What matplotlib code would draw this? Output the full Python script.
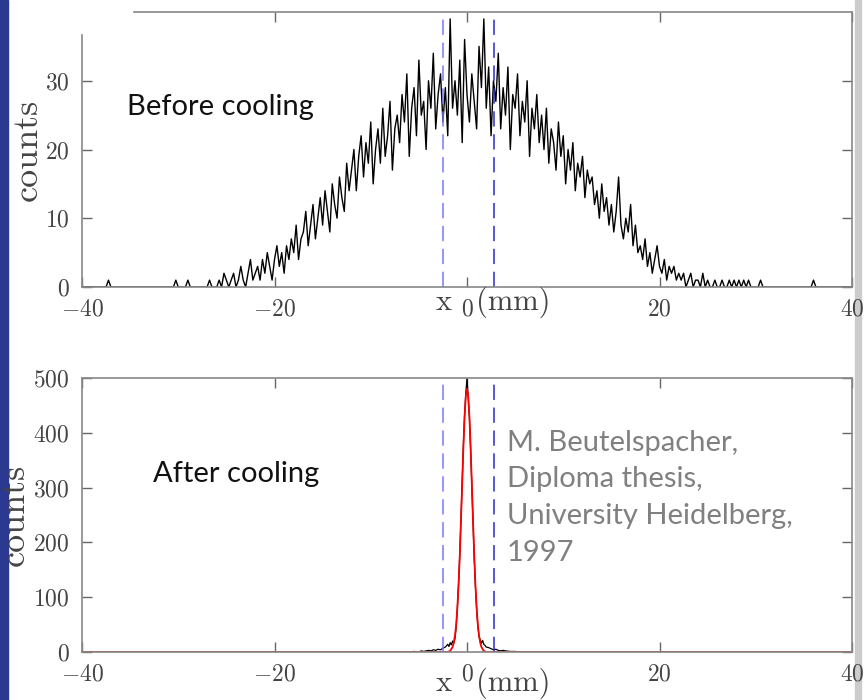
import numpy as np
import matplotlib
matplotlib.use('Agg')
import matplotlib.pyplot as plt
from matplotlib.patches import Rectangle

plt.rcParams['mathtext.fontset'] = 'cm'
plt.rcParams['font.family'] = ['cmr10', 'DejaVu Sans']

# --- data ---
bin_w = 0.25
before_start = -27.0
# counts per 0.25 mm bin from -27.0 to 26.75 (before cooling)
before_counts = [
    0, 1, 0, 0, 0, 1, 0, 2, 1, 0, 1, 2, 0, 1, 3, 1, 0, 2, 4, 1,
    2, 3, 1, 4, 2, 5, 3, 1, 4, 6, 3, 5, 2, 6, 4, 7, 5, 9, 4, 7,
    8, 11, 6, 9, 12, 7, 10, 13, 9, 14, 11, 8, 15, 12, 10, 16, 13, 11, 18, 14,
    17, 20, 14, 19, 22, 16, 21, 18, 24, 15, 20, 23, 18, 26, 19, 22, 27, 17, 23, 25,
    21, 28, 24, 31, 19, 26, 29, 22, 33, 25, 27, 20, 30, 26, 34, 23, 28, 31, 24, 29,
    22, 39, 26, 30, 25, 33, 21, 36, 28, 24, 31, 27, 23, 35, 29, 39, 26, 32, 22, 30,
    27, 34, 23, 29, 25, 32, 20, 28, 26, 31, 22, 27, 24, 30, 19, 26, 23, 28, 21, 25,
    20, 26, 18, 23, 21, 17, 24, 19, 22, 15, 20, 17, 21, 14, 18, 16, 19, 13, 17, 15,
    16, 12, 14, 10, 15, 11, 13, 9, 12, 8, 11, 16, 9, 7, 10, 8, 12, 6, 9, 5,
    6, 4, 7, 3, 5, 2, 4, 6, 3, 2, 4, 1, 3, 2, 3, 1, 2, 1, 2, 0,
    1, 2, 0, 1, 1, 0, 2, 0, 1, 0, 0, 1, 0, 0, 1, 0,
]
# isolated single counts outside the main hump
before_stray = [-37.25, -30.25, -29.0, 27.25, 27.75, 28.25, 28.75, 29.25, 30.5, 36.0]

# after cooling: measured counts
after_x = [-40, -6.0, -5.5, -5.0, -4.75, -4.5, -4.25, -4.0, -3.75, -3.5, -3.25,
           -3.0, -2.75, -2.5, -2.25, -2.0, -1.875, -1.75, -1.625, -1.5, -1.375,
           -1.25, -1.125, -1.0, -0.875, -0.75, -0.625, -0.5, -0.375, -0.25, -0.125,
           0.0, 0.125, 0.25, 0.375, 0.5, 0.625, 0.75, 0.875, 1.0, 1.125,
           1.25, 1.375, 1.5, 1.625, 1.75, 1.875, 2.0, 2.25, 2.5, 2.75,
           3.0, 3.25, 3.5, 3.75, 4.0, 4.5, 5.0, 5.5, 6.0, 40]
after_counts = [0, 0, 1, 0, 2, 1, 2, 3, 2, 4, 3,
                5, 4, 7, 9, 14, 10, 17, 13, 20, 16,
                24, 45, 80, 125, 178, 245, 310, 378, 432, 472,
                500, 465, 428, 370, 305, 238, 172, 120, 78, 48,
                28, 22, 16, 21, 14, 12, 9, 8, 6, 4,
                5, 3, 2, 3, 2, 1, 1, 0, 0, 0]

# gaussian fit (red)
fit_x = [-40, -2.0, -1.75, -1.5, -1.375, -1.25, -1.125, -1.0, -0.875, -0.75, -0.625,
         -0.5, -0.375, -0.25, -0.125, 0.0, 0.125, 0.25, 0.375, 0.5, 0.625,
         0.75, 0.875, 1.0, 1.125, 1.25, 1.375, 1.5, 1.75, 2.0, 40]
fit_counts = [0, 0, 2, 9, 17, 30, 50, 81, 123, 176, 240,
              308, 374, 430, 467, 480, 467, 430, 374, 308, 240,
              176, 123, 81, 50, 30, 17, 9, 2, 0, 0]

cut_left = -2.5
cut_right = 2.8
x_ticks = [-40, -20, 0, 20, 40]
top_yticks = [0, 10, 20, 30]
bot_yticks = [0, 100, 200, 300, 400, 500]

# full histogram grid for "before"
grid = np.arange(-40, 40 + bin_w / 2, bin_w)
before = np.zeros(len(grid))
i0 = int(round((before_start + 40) / bin_w))
before[i0:i0 + len(before_counts)] = before_counts
for s in before_stray:
    before[int(round((s + 40) / bin_w))] = 1

fig = plt.figure(figsize=(8.65, 7.0), dpi=100)
fig.patches.append(Rectangle((0, 0), 8 / 865, 1, transform=fig.transFigure,
                             color='#2b3990', zorder=-1))
fig.patches.append(Rectangle((855 / 865, 0), 6 / 865, 1, transform=fig.transFigure,
                             color='#cccccc', zorder=-1))

ax1 = fig.add_axes([82 / 865, 413 / 700, 770 / 865, 275 / 700])
ax2 = fig.add_axes([82 / 865, 48 / 700, 770 / 865, 274 / 700])


def style(ax, yticks, ylim, xpad):
    ax.set_xlim(-40, 40)
    ax.set_ylim(*ylim)
    ax.set_xticks(x_ticks)
    ax.set_xticklabels(['$%d$' % v for v in x_ticks])
    ax.set_yticks(yticks)
    ax.set_yticklabels(['$%d$' % v for v in yticks])
    ax.tick_params(direction='in', top=True, right=True, length=7, width=1,
                   color='#666666', labelcolor='#444444', labelsize=17)
    ax.tick_params(axis='x', pad=xpad)
    ax.tick_params(axis='y', pad=9)
    for sp in ax.spines.values():
        sp.set_color('#888888')
        sp.set_linewidth(1.2)


# top panel
ax1.plot(grid, before, color='black', lw=1.0)
ax1.axvline(cut_left, color='#7878ff', lw=1.1, dashes=(10, 5))
ax1.axvline(cut_right, color='#2a2acc', lw=1.1, dashes=(10, 5))
style(ax1, top_yticks, (0, 40), 8)
ax1.spines['left'].set_bounds(0, 36.7)
ax1.spines['top'].set_bounds(-34.6, 40)
ax1.xaxis.get_major_ticks()[0].tick2line.set_visible(False)
ax1.text(-35.3, 26.2, 'Before cooling', family='Lato', fontsize=21,
         color='#111111', ha='left', va='center')
ax1.text(-0.07, 0.5, 'counts', transform=ax1.transAxes, rotation=90,
         ha='center', va='center', fontsize=26, color='#444444')
tr1 = ax1.get_xaxis_transform()
ax1.text(-2.4, -0.084, 'x', transform=tr1, ha='center', va='baseline',
         fontsize=22, color='#444444')
ax1.text(0.94, -0.084, '(mm)', transform=tr1, ha='left', va='baseline',
         fontsize=22, color='#444444')

# bottom panel
ax2.plot(after_x, after_counts, color='black', lw=0.9)
ax2.plot(fit_x, fit_counts, color='#ff0000', lw=1.3)
ax2.axvline(cut_left, color='#7878ff', lw=1.1, dashes=(10, 5))
ax2.axvline(cut_right, color='#2a2acc', lw=1.1, dashes=(10, 5))
style(ax2, bot_yticks, (0, 500), 8)
ax2.text(-32.6, 325, 'After cooling', family='Lato', fontsize=21,
         color='#111111', ha='left', va='center')
ax2.text(4.15, 406, 'M. Beutelspacher,\nDiploma thesis,\nUniversity Heidelberg,\n1997',
         family='Lato', fontsize=21, color='#808080', ha='left', va='top',
         linespacing=1.52)
ax2.text(-0.087, 0.5, 'counts', transform=ax2.transAxes, rotation=90,
         ha='center', va='center', fontsize=26, color='#444444')
tr2 = ax2.get_xaxis_transform()
ax2.text(-2.4, -0.142, 'x', transform=tr2, ha='center', va='baseline',
         fontsize=22, color='#444444')
ax2.text(0.94, -0.142, '(mm)', transform=tr2, ha='left', va='baseline',
         fontsize=22, color='#444444')

fig.savefig('out.png', dpi=100)
